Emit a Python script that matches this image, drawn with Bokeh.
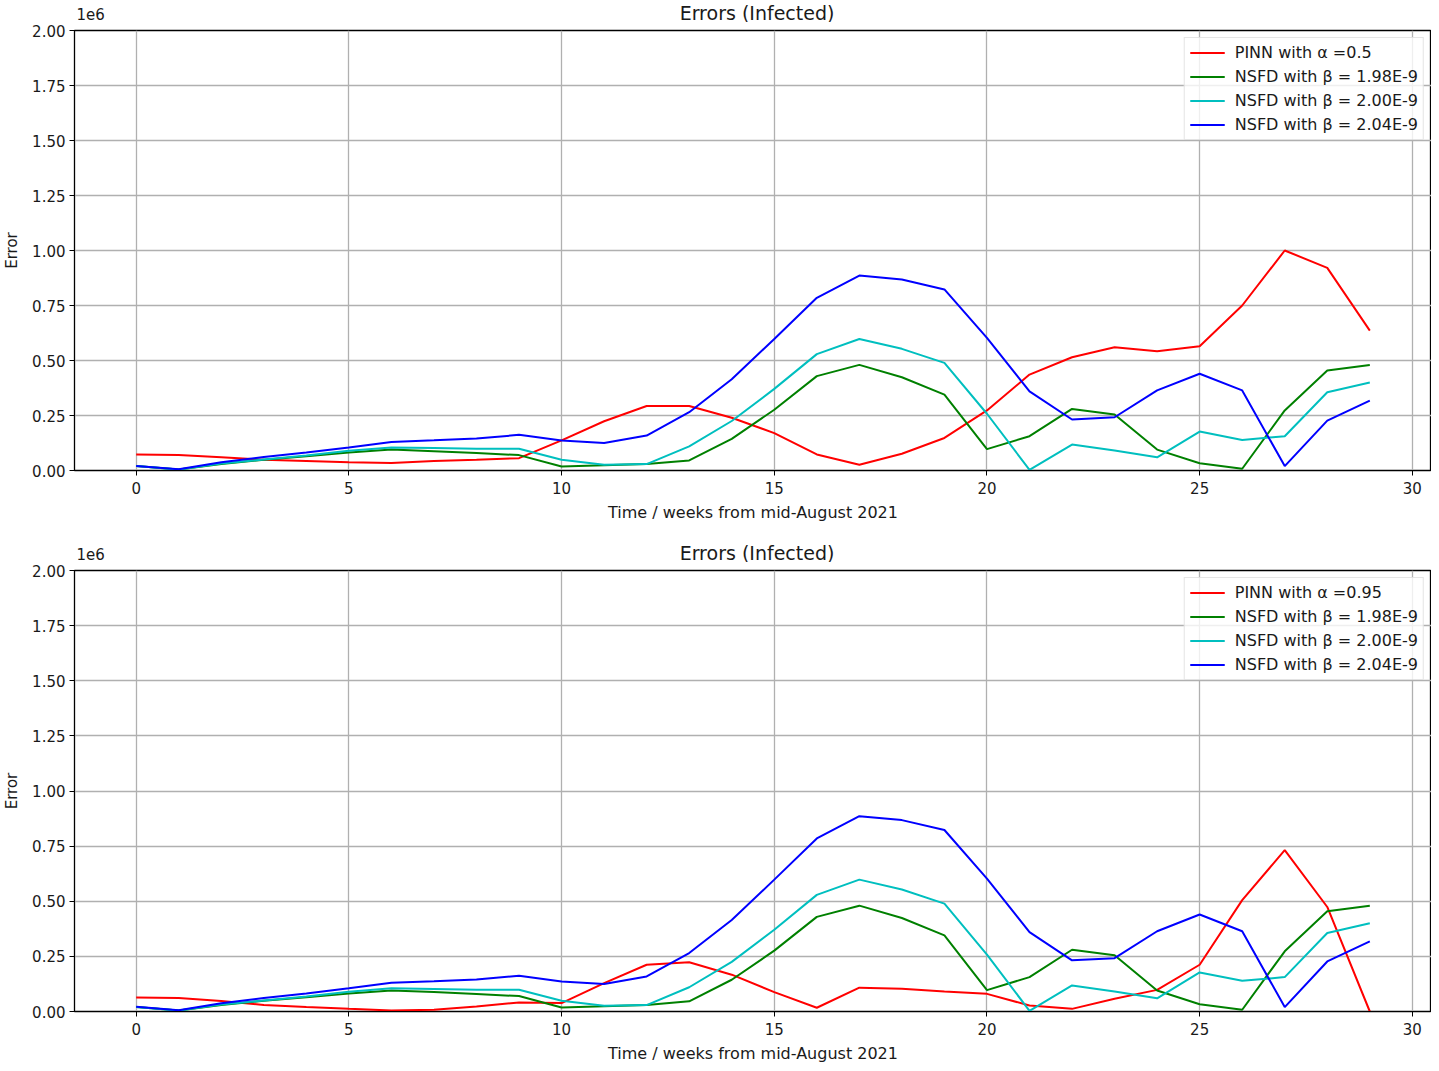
from bokeh.plotting import figure
from bokeh.layouts import column
from bokeh.models import Range1d, FixedTicker, CustomJSTickFormatter, Label, Legend, LegendItem
from bokeh.embed import file_html
from bokeh.resources import INLINE

weeks = list(range(30))

# values in units of 1e6
pinn_a05 = [0.073, 0.070, 0.060, 0.049, 0.043, 0.037, 0.034, 0.043, 0.049, 0.056,
            0.137, 0.224, 0.293, 0.293, 0.240, 0.170, 0.073, 0.026, 0.076, 0.148,
            0.273, 0.436, 0.515, 0.560, 0.542, 0.565, 0.750, 1.000, 0.921, 0.636]
pinn_a095 = [0.064, 0.061, 0.048, 0.030, 0.020, 0.012, 0.005, 0.008, 0.023, 0.041,
             0.038, 0.129, 0.212, 0.223, 0.167, 0.088, 0.017, 0.108, 0.103, 0.091,
             0.080, 0.027, 0.012, 0.058, 0.098, 0.212, 0.505, 0.732, 0.474, 0.000]
nsfd_198 = [0.020, 0.005, 0.030, 0.049, 0.065, 0.082, 0.095, 0.088, 0.079, 0.070,
            0.018, 0.024, 0.030, 0.046, 0.144, 0.276, 0.429, 0.480, 0.424, 0.345,
            0.097, 0.156, 0.280, 0.255, 0.095, 0.033, 0.008, 0.273, 0.455, 0.480]
nsfd_200 = [0.020, 0.005, 0.032, 0.050, 0.068, 0.090, 0.105, 0.102, 0.099, 0.099,
            0.049, 0.026, 0.029, 0.110, 0.225, 0.371, 0.529, 0.598, 0.553, 0.489,
            0.258, 0.003, 0.118, 0.091, 0.060, 0.177, 0.139, 0.156, 0.356, 0.400]
nsfd_204 = [0.021, 0.006, 0.037, 0.061, 0.082, 0.105, 0.130, 0.137, 0.145, 0.162,
            0.136, 0.125, 0.159, 0.265, 0.415, 0.598, 0.785, 0.886, 0.868, 0.823,
            0.603, 0.360, 0.232, 0.242, 0.364, 0.440, 0.364, 0.020, 0.227, 0.318]

y_ticks = [0.0, 0.25, 0.5, 0.75, 1.0, 1.25, 1.5, 1.75, 2.0]
x_ticks = [0, 5, 10, 15, 20, 25, 30]
title_text = "Errors (Infected)"
offset_text = "1e6"

FONT = "DejaVu Sans"
TXT = "#1a1a1a"
COLORS = ["#ff0000", "#008000", "#00bfbf", "#0000ff"]
WIDTH = 1431
B_LEFT, B_RIGHT, B_BOTTOM = 65, 0, 56
B_TOP = 8


def make_header(height, title_mid, offset_mid):
    """Strip above a plot carrying its title and the 1e6 offset text.
    title_mid / offset_mid: distance of each text's middle above the strip's bottom."""
    h = figure(width=WIDTH, height=height, output_backend="svg", toolbar_location=None,
               x_axis_location=None, y_axis_location=None,
               x_range=Range1d(0, 1), y_range=Range1d(0, 1),
               min_border_left=0, min_border_right=0, min_border_top=0, min_border_bottom=0)
    h.outline_line_color = None
    h.grid.visible = False
    frame_w = WIDTH - B_LEFT - 1
    h.add_layout(Label(x=frame_w / 2, y=title_mid, x_units="screen", y_units="screen",
                       text=title_text, text_font=FONT, text_font_size="19px",
                       text_color=TXT, text_align="center", text_baseline="middle"))
    h.add_layout(Label(x=2, y=offset_mid, x_units="screen", y_units="screen",
                       text=offset_text, text_font=FONT, text_font_size="15px",
                       text_color=TXT, text_baseline="middle"))
    return h


def make_plot(pinn, pinn_label, height):
    p = figure(width=WIDTH, height=height, output_backend="svg", toolbar_location=None,
               x_range=Range1d(-1.45, 30.45), y_range=Range1d(0, 2.0e6),
               min_border_left=B_LEFT, min_border_right=B_RIGHT, min_border_top=B_TOP,
               min_border_bottom=B_BOTTOM)

    series = [(pinn, pinn_label), (nsfd_198, "NSFD with β = 1.98E-9"),
              (nsfd_200, "NSFD with β = 2.00E-9"), (nsfd_204, "NSFD with β = 2.04E-9")]
    items = []
    for (vals, lab), col in zip(series, COLORS):
        r = p.line(weeks, [v * 1e6 for v in vals], line_color=col, line_width=2)
        items.append(LegendItem(label=lab, renderers=[r]))

    leg = Legend(items=items, location="top_right")
    leg.label_text_font = FONT
    leg.label_text_font_size = "16px"
    leg.label_text_color = TXT
    leg.glyph_width = 35
    leg.glyph_height = 19
    leg.label_height = 19
    leg.spacing = 5
    leg.padding = 5
    leg.margin = 7
    leg.label_standoff = 10
    leg.border_line_color = "#cccccc"
    leg.border_line_width = 1
    leg.background_fill_alpha = 0.8
    p.add_layout(leg)

    p.xaxis.ticker = FixedTicker(ticks=x_ticks)
    p.yaxis.ticker = FixedTicker(ticks=[t * 1e6 for t in y_ticks])
    p.yaxis.formatter = CustomJSTickFormatter(code="return (tick/1e6).toFixed(2);")
    p.xaxis.minor_tick_line_color = None
    p.yaxis.minor_tick_line_color = None
    for ax in (p.xaxis, p.yaxis):
        ax.major_tick_out = 5
        ax.major_tick_in = 0
        ax.axis_line_color = "black"
        ax.major_tick_line_color = "black"
        ax.major_label_text_font = FONT
        ax.major_label_text_font_size = "15px"
        ax.major_label_text_color = TXT
        ax.axis_label_text_font = FONT
        ax.axis_label_text_font_style = "normal"
        ax.axis_label_text_color = TXT
    p.xaxis.axis_label_text_font_size = "16px"
    p.yaxis.axis_label_text_font_size = "15px"
    p.xaxis.axis_label = "Time / weeks from mid-August 2021"
    p.yaxis.axis_label = "Error"
    p.xaxis.axis_label_standoff = 6
    p.yaxis.axis_label_standoff = 8
    p.xaxis.major_label_standoff = 6
    p.yaxis.major_label_standoff = 4

    p.grid.grid_line_color = "#b0b0b0"
    p.grid.grid_line_width = 1.3
    p.outline_line_color = "black"
    p.outline_line_width = 1.3
    p.outline_line_alpha = 1.0
    return p


# page rows: header1 0-22, plot1 22-526 (frame 30-470), header2 526-562, plot2 562-1067 (frame 570-1011)
h1 = make_header(22, 10, 9)
p1 = make_plot(pinn_a05, "PINN with α =0.5", 504)
h2 = make_header(36, 10, 9)
p2 = make_plot(pinn_a095, "PINN with α =0.95", 505)

layout = column(h1, p1, h2, p2, spacing=0)
open("out.html", "w").write(file_html(layout, INLINE))
